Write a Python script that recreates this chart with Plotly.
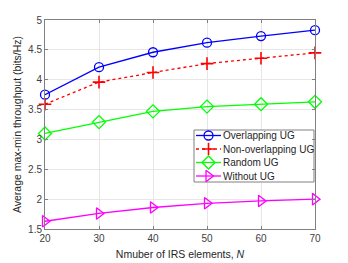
import plotly.graph_objects as go

N = [20, 30, 40, 50, 60, 70]
overlapping = [3.75, 4.21, 4.46, 4.62, 4.73, 4.83]
non_overlapping = [3.59, 3.96, 4.12, 4.27, 4.36, 4.45]
random_ug = [3.10, 3.29, 3.47, 3.55, 3.59, 3.63]
without_ug = [1.63, 1.76, 1.86, 1.93, 1.97, 2.00]

series_names = ["Overlapping UG", "Non-overlapping UG", "Random UG", "Without UG"]
x_ticks = [20, 30, 40, 50, 60, 70]
y_ticks = [1.5, 2, 2.5, 3, 3.5, 4, 4.5, 5]
y_tick_text = ["1.5", "2", "2.5", "3", "3.5", "4", "4.5", "5"]

FONT = "Liberation Sans, Arial, Helvetica, sans-serif"

styles = [
    dict(color="#0000FF", dash="solid", symbol="circle-open", size=9, mlw=1.3),
    dict(color="#FF0000", dash="dot", symbol="cross-thin-open", size=9, mlw=1.6),
    dict(color="#00FF00", dash="solid", symbol="diamond-open", size=10, mlw=1.3),
    dict(color="#FF00FF", dash="solid", symbol="triangle-right-open", size=10, mlw=1.3),
]
data = [overlapping, non_overlapping, random_ug, without_ug]

fig = go.Figure()
for name, vals, st in zip(series_names, data, styles):
    fig.add_trace(go.Scatter(x=N, y=vals, name=name, mode="lines+markers",
                             line=dict(color=st["color"], width=1.3, dash=st["dash"]),
                             marker=dict(symbol=st["symbol"], size=st["size"], color=st["color"],
                                         line=dict(width=st["mlw"], color=st["color"])),
                             cliponaxis=False, showlegend=False))

# Custom compact legend (MATLAB style), drawn on an overlay axis measured in pixels
L_left, L_right, L_top, L_bottom = 194, 314, 130, 182
row_y = [135.5, 149, 162.5, 176]
seg_x0, seg_x1, txt_x = 196, 221, 221.5

fig.add_trace(go.Scatter(x=[L_left, L_right, L_right, L_left, L_left],
                         y=[L_top, L_top, L_bottom, L_bottom, L_top],
                         xaxis="x2", yaxis="y2", mode="lines", fill="toself", fillcolor="white",
                         line=dict(color="#808080", width=1), showlegend=False, hoverinfo="skip",
                         cliponaxis=False))
for name, st, ry in zip(series_names, styles, row_y):
    fig.add_trace(go.Scatter(x=[seg_x0, seg_x1], y=[ry, ry], xaxis="x2", yaxis="y2", mode="lines",
                             line=dict(color=st["color"], width=1.3, dash=st["dash"]),
                             showlegend=False, hoverinfo="skip", cliponaxis=False))
    fig.add_trace(go.Scatter(x=[(seg_x0 + seg_x1) / 2], y=[ry], xaxis="x2", yaxis="y2", mode="markers",
                             marker=dict(symbol=st["symbol"], size=st["size"], color=st["color"],
                                         line=dict(width=st["mlw"], color=st["color"])),
                             showlegend=False, hoverinfo="skip", cliponaxis=False))
    fig.add_annotation(x=txt_x, y=ry, xref="x2", yref="y2", text=name, showarrow=False,
                       xanchor="left", yanchor="middle", borderpad=0,
                       font=dict(family=FONT, size=10, color="#262626"))

axis_common = dict(showline=True, mirror="ticks", linecolor="#808080", linewidth=1,
                   ticks="inside", ticklen=3, tickcolor="#808080", automargin=False,
                   showgrid=True, gridcolor="#E6E6E6", gridwidth=1, zeroline=False,
                   tickfont=dict(family=FONT, size=10, color="#404040"))

fig.update_layout(
    width=348, height=263,
    margin=dict(l=45, r=33, t=20, b=34),
    paper_bgcolor="white", plot_bgcolor="white",
    font=dict(family=FONT, size=10, color="#262626"),
    xaxis=dict(range=[20, 70], tickvals=x_ticks,
               title=dict(text="Nmuber of IRS elements, <i>N</i>", standoff=7,
                          font=dict(family=FONT, size=10.5, color="#262626")),
               **axis_common),
    yaxis=dict(range=[1.5, 5], tickvals=y_ticks, ticktext=y_tick_text,
               title=dict(text="Average max-min throughput (bits/Hz)", standoff=4,
                          font=dict(family=FONT, size=10.5, color="#262626")),
               **axis_common),
    xaxis2=dict(range=[45, 315], overlaying="x", visible=False, fixedrange=True, automargin=False),
    yaxis2=dict(range=[229, 20], overlaying="y", visible=False, fixedrange=True, automargin=False),
    showlegend=False,
)

fig.write_html("out.html", config={"displayModeBar": False},
               post_script="document.body.style.margin='0';")
